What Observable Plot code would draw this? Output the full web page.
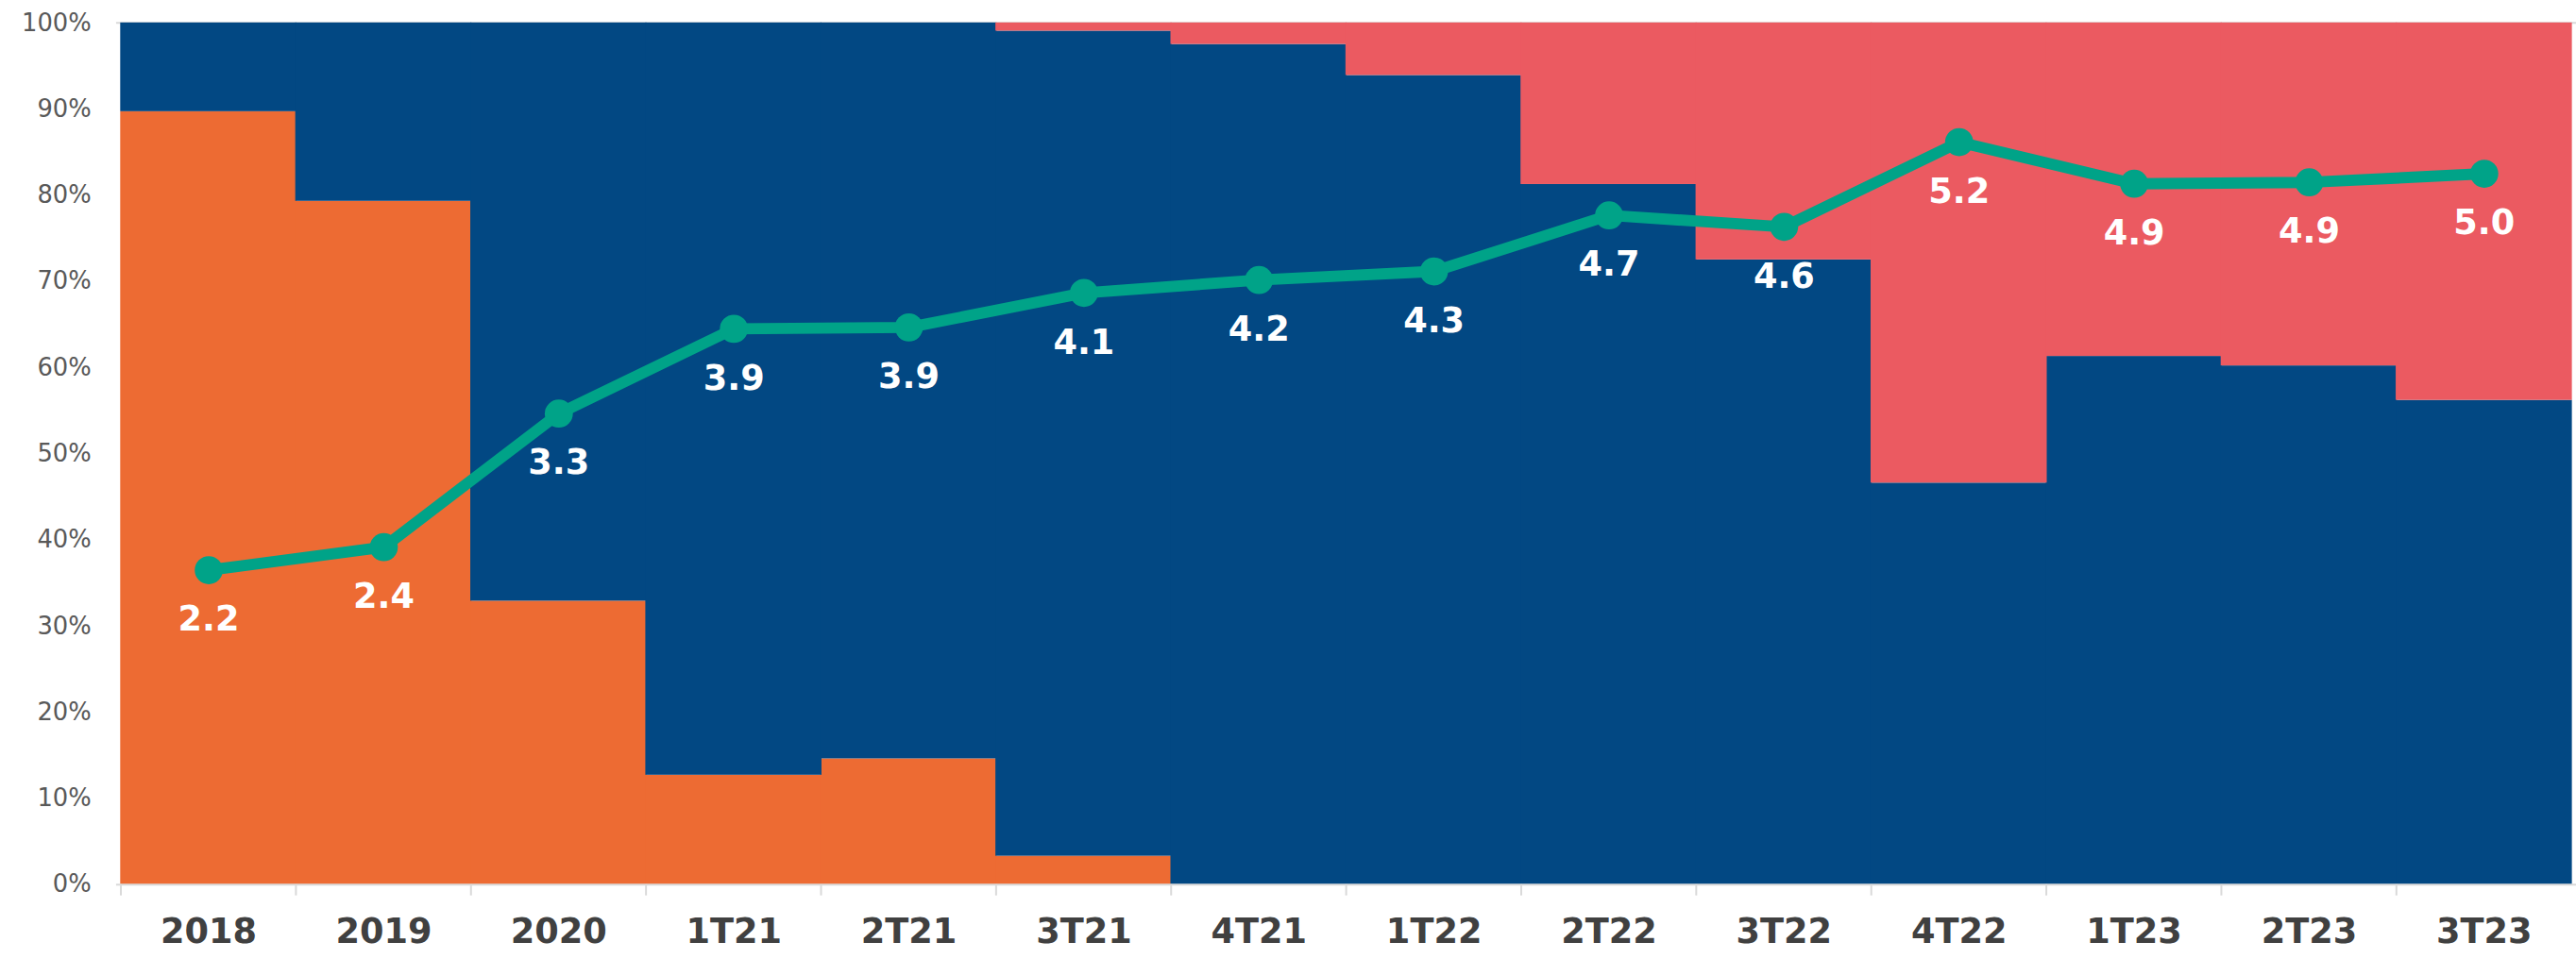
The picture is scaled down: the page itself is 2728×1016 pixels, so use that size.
<!DOCTYPE html>
<html>
<head>
<meta charset="utf-8">
<script src="https://cdn.jsdelivr.net/npm/d3@7"></script>
<script src="https://cdn.jsdelivr.net/npm/@observablehq/plot@0.6"></script>
<style>
  html, body { margin: 0; padding: 0; background: #fff; overflow: hidden; }
  #chart { width: 2728px; height: 1016px; overflow: hidden; }
</style>
</head>
<body>
<div id="chart"></div>
<script>
// ---- data ----
const categories = ["2018","2019","2020","1T21","2T21","3T21","4T21","1T22","2T22","3T22","4T22","1T23","2T23","3T23"];
const orangeShare = [89.7, 79.3, 32.9, 12.7, 14.6, 3.3, 0, 0, 0, 0, 0, 0, 0, 0];
const blueShare   = [10.3, 20.7, 67.1, 87.3, 85.4, 95.75, 97.5, 93.9, 81.25, 72.5, 46.6, 61.3, 60.2, 56.2];
const redShare    = [0, 0, 0, 0, 0, 0.95, 2.5, 6.1, 18.75, 27.5, 53.4, 38.7, 39.8, 43.8];
const lineValues  = [2.19, 2.35, 3.28, 3.87, 3.88, 4.12, 4.21, 4.27, 4.66, 4.58, 5.17, 4.88, 4.89, 4.95];
const lineAxisMax = 6;   // secondary axis 0–6 maps onto 0–100%
const lineLabels  = ["2.2","2.4","3.3","3.9","3.9","4.1","4.2","4.3","4.7","4.6","5.2","4.9","4.9","5.0"];
const yTicks = [0,10,20,30,40,50,60,70,80,90,100];

const seriesNames = ["Naranja", "Azul", "Rojo"];
const seriesColors = ["#ED6B33", "#024883", "#EB5A61"];
const seriesData = [orangeShare, blueShare, redShare];

const rows = [];
seriesData.forEach((arr, si) => arr.forEach((v, i) => rows.push({cat: categories[i], series: seriesNames[si], value: v})));
const linePts = categories.map((c, i) => ({cat: c, v: lineValues[i], label: lineLabels[i]}));

const W = 2752, H = 1016, ML = 124, MR = 0, MT = 24, MB = 71;
const step = (W - ML - MR) / categories.length;
const font = "DejaVu Sans, Verdana, sans-serif";

const chart = Plot.plot({
  width: W, height: H,
  marginLeft: ML, marginRight: MR, marginTop: MT, marginBottom: MB,
  style: {fontFamily: font, background: "transparent"},
  x: {domain: categories, padding: 0, label: null},
  y: {domain: [0, 100], label: null},
  color: {domain: seriesNames, range: seriesColors},
  marks: [
    Plot.ruleY([100], {stroke: "#d9d9d9", strokeWidth: 2}),
    Plot.barY(rows, Plot.stackY({x: "cat", y: "value", fill: "series", z: "series", order: seriesNames, insetLeft: -0.6, insetRight: -0.6})),
    Plot.ruleY([0], {stroke: "#d9d9d9", strokeWidth: 2}),
    Plot.axisY({ticks: yTicks, tickFormat: d => d + "%", tickSize: 0, tickPadding: 27, fontSize: 26, fill: "#595959", label: null}),
    Plot.axisX({tickSize: 0, tickPadding: 36, fontSize: 37, fontWeight: "bold", fill: "#404040", label: null}),
    Plot.axisX({tickFormat: null, tickSize: 12, stroke: "#d9d9d9", strokeWidth: 2, dx: -step / 2, label: null}),
    Plot.line(linePts, {x: "cat", y: d => d.v / lineAxisMax * 100, stroke: "#00A388", strokeWidth: 12}),
    Plot.dot(linePts, {x: "cat", y: d => d.v / lineAxisMax * 100, r: 15, fill: "#00A388"}),
    Plot.text(linePts, {x: "cat", y: d => d.v / lineAxisMax * 100, text: "label", dy: 53, fill: "white", fontSize: 37, fontWeight: "bold"})
  ]
});
document.getElementById("chart").appendChild(chart);
</script>
</body>
</html>
